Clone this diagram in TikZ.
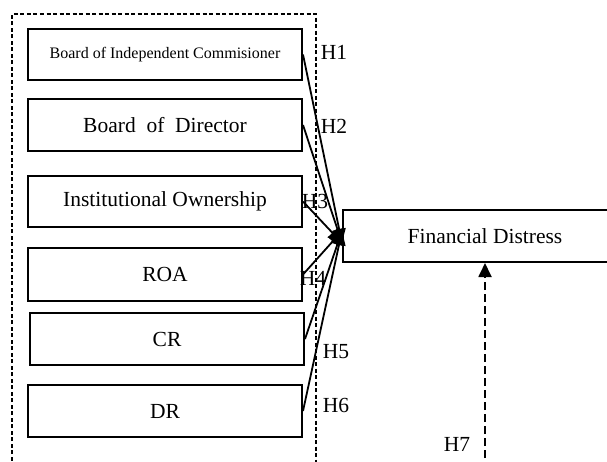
\documentclass[tikz,border=0pt]{standalone}
\usepackage{fontspec}
\setmainfont{Liberation Serif}
\usetikzlibrary{arrows.meta}
\begin{document}
\begin{tikzpicture}[x=1pt,y=-1pt,
  varbox/.style={draw,line width=2pt,minimum width=274pt,minimum height=51pt,inner sep=0pt,font=\fontsize{21.5}{24}\selectfont},
  hlab/.style={font=\fontsize{21.5}{24}\selectfont,inner sep=0pt},
  link/.style={line width=1.8pt,-{Triangle[length=14pt,width=13pt]}},
  grp/.style={line width=1.5pt,dash pattern=on 4pt off 2.5pt}]
\clip (0,0) rectangle (607,461);
\fill[white] (0,0) rectangle (607,461);
\draw[grp] (12,480) -- (12,14) -- (316,14) -- (316,480);
\node[varbox,font=\fontsize{16}{18}\selectfont] (b1) at (165,54.5) {Board of Independent Commisioner};
\node[varbox,minimum height=52pt] (b2) at (165,125) {Board\ \ of\ \ Director};
\node[varbox] (b3) at (165,201.5) {Institutional Ownership};
\node[varbox,minimum height=53pt] (b4) at (165,274.5) {ROA};
\node[varbox,minimum height=52pt] (b5) at (167,339) {CR};
\node[varbox,minimum height=52pt] (b6) at (165,411) {DR};
\node[varbox,minimum width=284pt,minimum height=52pt] (fd) at (485,236) {Financial Distress};
\coordinate (t1) at ([yshift=-7pt]fd.west);
\coordinate (t2) at ([yshift=5pt]fd.west);
\coordinate (h7s) at (485,470);
\draw[link] (b1.east) -- (t1);
\draw[link] (b2.east) -- (t1);
\draw[link] (b3.east) -- (t1);
\draw[link] (b4.east) -- (t2);
\draw[link] (b5.east) -- (t2);
\draw[link] (b6.east) -- (t2);
\draw[line width=1.8pt,dash pattern=on 8pt off 4pt,-{Triangle[length=14pt,width=13pt]}] (h7s) -- (fd.south);
\node[hlab] (l1) at (334,52) {H1};
\node[hlab] (l2) at (334,126) {H2};
\node[hlab] (l3) at (315,201) {H3};
\node[hlab] (l4) at (313,278) {H4};
\node[hlab] (l5) at (336,352) {H5};
\node[hlab] (l6) at (336,405) {H6};
\node[hlab] (l7) at (457,444) {H7};
\end{tikzpicture}
\end{document}
